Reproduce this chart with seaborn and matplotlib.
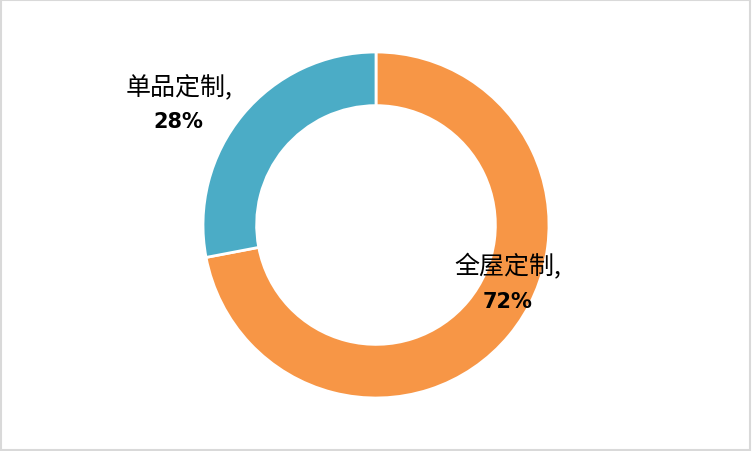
import matplotlib
matplotlib.use("Agg")
import matplotlib.pyplot as plt
import seaborn as sns
from matplotlib.patches import Rectangle

categories = ["全屋定制", "单品定制"]
shares = [72, 28]
colors = ["#F79646", "#4BACC6"]

sns.set_theme(style="white")
plt.rcParams['font.family'] = ['Noto Sans CJK SC', 'DejaVu Sans']

fig = plt.figure(figsize=(7.52, 4.52), dpi=100)
ax = fig.add_axes([0, 0, 1, 1])
palette = sns.color_palette(colors)

ax.pie(shares,
       colors=palette,
       startangle=90,
       counterclock=False,
       radius=1.0,
       wedgeprops=dict(width=0.31, edgecolor="white", linewidth=2))

# Label positions in data units (radius 1 = outer ring)
label_pos = {"全屋定制": (0.763, -0.34), "单品定制": (-1.14, 0.70)}
for name, val in zip(categories, shares):
    x, y = label_pos[name]
    ax.text(x, y + 0.1, f"{name},", ha="center", va="center",
            fontsize=18, color="black")
    ax.text(x, y - 0.1, f"{val}%", ha="center", va="center",
            fontsize=15, fontweight="bold", color="black",
            family=['DejaVu Sans'])

r_px = 173
ax.set_xlim(-752 / 2 / r_px, 752 / 2 / r_px)
ax.set_ylim(-452 / 2 / r_px, 452 / 2 / r_px)
ax.set_aspect("equal")
ax.axis("off")

fig.patches.append(Rectangle((0.001, 0.002), 0.997, 0.995, transform=fig.transFigure,
                             fill=False, edgecolor="#d9d9d9", linewidth=1.5))

fig.savefig("out.png", dpi=100, facecolor="white")
